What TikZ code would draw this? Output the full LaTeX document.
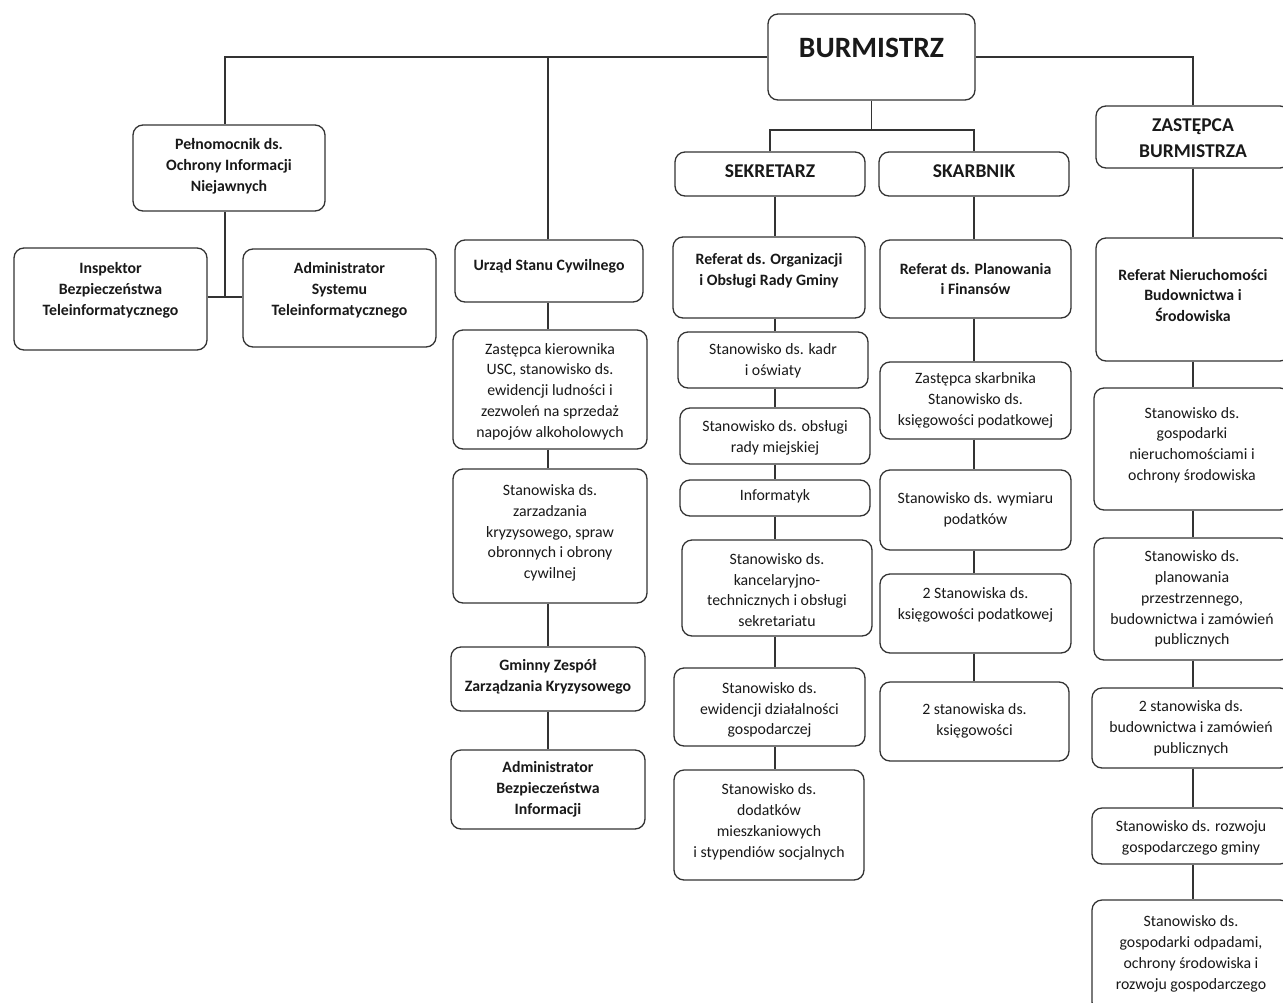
\documentclass[tikz,border=0pt]{standalone}
\usepackage{fontspec}
\setmainfont{Carlito}
\tikzset{
  box/.style={draw=black!80, line width=1.3pt, rounded corners=10pt, inner sep=0pt, fill=white},
  txt/.style={align=center, inner sep=0pt, font=\fontsize{15.8}{20.8}\selectfont, text=black!90},
  bt/.style={font=\fontsize{15.8}{20.8}\selectfont\bfseries},
  ht/.style={font=\fontsize{19.5}{26}\selectfont\bfseries},
  conn/.style={draw=black!80, line width=1.3pt},
}
\newcommand{\orgbox}[8]{%
  \node[box, minimum width={#5-#3}, minimum height={#6-#4}] (#1) at ({(#3+#5)/2},{(#4+#6)/2}) {};
  \node[txt,#2] (#1-t) at ([yshift={#7}]#1.center) {#8};
}
\begin{document}
\begin{tikzpicture}[x=1pt,y=-1pt]
\useasboundingbox (0,0) rectangle (1283,1002);
\fill[white] (0,0) rectangle (1283,1002);
\clip (0,0) rectangle (1283,1002);
\coordinate (cA) at (225,0);
\coordinate (cB) at (548,0);
\coordinate (cC) at (775,0);
\coordinate (cD) at (974,0);
\coordinate (cE) at (1193,0);
\coordinate (j1) at (871.5,130);
\coordinate (j2) at (225,297);

% boxes
\orgbox{bur}{font=\fontsize{29.5}{34}\selectfont\bfseries}{768}{14}{975}{100}{9}{BURMISTRZ}
\orgbox{peln}{bt}{133}{125}{325}{211}{2}{Pełnomocnik ds.\\Ochrony Informacji\\Niejawnych}
\orgbox{insp}{bt}{14}{248}{207}{350}{9}{Inspektor\\Bezpieczeństwa\\Teleinformatycznego}
\orgbox{adms}{bt}{243}{249}{436}{347}{8}{Administrator\\Systemu\\Teleinformatycznego}
\orgbox{urzad}{bt}{455}{240}{643}{302}{5}{Urząd Stanu Cywilnego}
\orgbox{zkier}{}{453}{330}{647}{449}{-2}{Zastępca kierownika\\USC, stanowisko ds.\\ewidencji ludności i\\zezwoleń na sprzedaż\\napojów alkoholowych}
\orgbox{zarz}{}{453}{469}{647}{603}{3}{Stanowiska ds.\\zarzadzania\\kryzysowego, spraw\\obronnych i obrony\\cywilnej}
\orgbox{gzzk}{bt}{451}{647}{645}{711}{2}{Gminny Zespół\\Zarządzania Kryzysowego}
\orgbox{abi}{bt}{451}{750}{645}{829}{0}{Administrator\\Bezpieczeństwa\\Informacji}

\orgbox{sek}{ht}{675}{152}{865}{196}{3}{SEKRETARZ}
\orgbox{skar}{ht}{879}{152}{1069}{196}{3}{SKARBNIK}
\orgbox{rorg}{bt}{673}{237}{865}{318}{7}{Referat ds. Organizacji\\i Obsługi Rady Gminy}
\orgbox{kadr}{}{678}{332}{868}{388}{-1}{Stanowisko ds. kadr\\i oświaty}
\orgbox{obsl}{}{680}{408}{870}{464}{-2}{Stanowisko ds. obsługi\\rady miejskiej}
\orgbox{inf}{}{680}{480}{870}{516}{2}{Informatyk}
\orgbox{kanc}{}{682}{540}{872}{636}{-2}{Stanowisko ds.\\kancelaryjno-\\technicznych i obsługi\\sekretariatu}
\orgbox{ewid}{}{674}{668}{865}{746}{-3}{Stanowisko ds.\\ewidencji działalności\\gospodarczej}
\orgbox{dod}{}{674}{770}{864}{880}{3}{Stanowisko ds.\\dodatków\\mieszkaniowych\\i stypendiów socjalnych}

\orgbox{rpf}{bt}{880}{240}{1071}{318}{0}{Referat ds. Planowania\\i Finansów}
\orgbox{zskar}{}{880}{362}{1071}{439}{0}{Zastępca skarbnika\\Stanowisko ds.\\księgowości podatkowej}
\orgbox{wym}{}{880}{470}{1071}{550}{0}{Stanowisko ds. wymiaru\\podatków}
\orgbox{kpod}{}{880}{574}{1071}{653}{9}{2 Stanowiska ds.\\księgowości podatkowej}
\orgbox{ksieg}{}{880}{682}{1069}{761}{1}{2 stanowiska ds.\\księgowości}

\orgbox{zast}{ht}{1096}{106}{1290}{168}{-1}{ZASTĘPCA\\BURMISTRZA}
\orgbox{rnier}{bt}{1096}{238}{1290}{361}{4}{Referat Nieruchomości\\Budownictwa i\\Środowiska}
\orgbox{gnier}{}{1094}{388}{1290}{510}{4}{Stanowisko ds.\\gospodarki\\nieruchomościami i\\ochrony środowiska}
\orgbox{plan}{}{1094}{538}{1290}{660}{0}{Stanowisko ds.\\planowania\\przestrzennego,\\budownictwa i zamówień\\publicznych}
\orgbox{bud}{}{1092}{688}{1290}{768}{0}{2 stanowiska ds.\\budownictwa i zamówień\\publicznych}
\orgbox{rozw}{}{1092}{808}{1290}{864}{-2}{Stanowisko ds. rozwoju\\gospodarczego gminy}
\orgbox{odp}{}{1092}{900}{1290}{1012}{2}{Stanowisko ds.\\gospodarki odpadami,\\ochrony środowiska i\\rozwoju gospodarczego}

% connectors
\draw[conn] (bur.west) -| (peln.north -| cA);
\draw[conn] (urzad.north -| cB) -- (bur.west -| cB);
\draw[conn] (bur.east) -| (zast.north);
\draw[conn] (bur.south) -- (j1);
\draw[conn] (sek.north) |- (j1) -| (skar.north);
\draw[conn] (peln.south -| cA) -- (j2);
\draw[conn] (insp.east |- j2) -- (adms.west |- j2);

\foreach \a/\b in {urzad/zkier, zkier/zarz, zarz/gzzk, gzzk/abi}
  \draw[conn] (\a.south -| cB) -- (\b.north -| cB);
\foreach \a/\b in {sek/rorg, rorg/kadr, kadr/obsl, obsl/inf, inf/kanc, kanc/ewid, ewid/dod}
  \draw[conn] (\a.south -| cC) -- (\b.north -| cC);
\foreach \a/\b in {skar/rpf, rpf/zskar, zskar/wym, wym/kpod, kpod/ksieg}
  \draw[conn] (\a.south -| cD) -- (\b.north -| cD);
\foreach \a/\b in {zast/rnier, rnier/gnier, gnier/plan, plan/bud, bud/rozw, rozw/odp}
  \draw[conn] (\a.south -| cE) -- (\b.north -| cE);
\end{tikzpicture}
\end{document}
